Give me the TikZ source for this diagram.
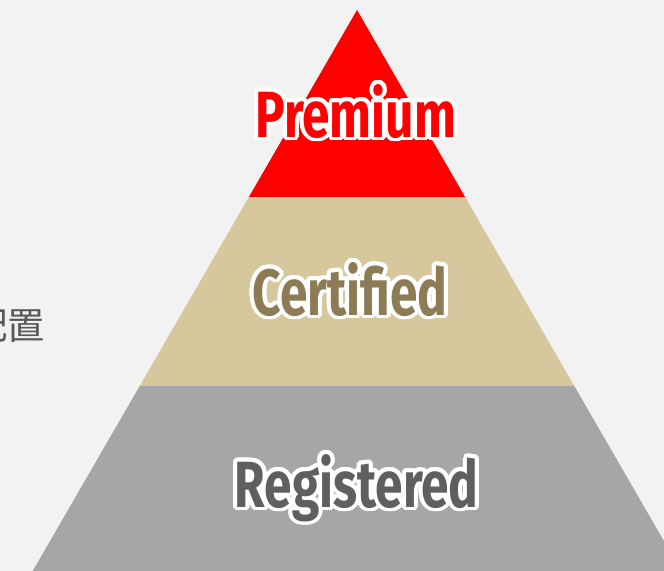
\documentclass[tikz,border=0pt]{standalone}
\usepackage{fontspec}
\usepackage{tikz}
\usetikzlibrary{calc, positioning}
\newfontfamily\tierfont{Fira Sans}[FakeStretch=0.76]
\newfontfamily\cjkfont{Noto Sans CJK JP}
\definecolor{bgray}{HTML}{F2F2F2}
\definecolor{tred}{HTML}{FF0000}
\definecolor{ttan}{HTML}{D6C89C}
\definecolor{tgray}{HTML}{A6A6A6}
\definecolor{ctext}{HTML}{8C7B55}
\definecolor{rtext}{HTML}{5F5F5F}
\definecolor{sidetext}{HTML}{595959}
\tikzstyle{tier}=[inner sep=0pt, anchor=base, font=\tierfont\bfseries\fontsize{49}{49}\selectfont]
\tikzset{band/.style={draw=none}}
\newcommand{\tierlabel}[4]{%
  \foreach \a in {0,20,...,340}
    \node[tier, text=white] at ($(#2)+(\a:3pt)$) {#4};
  \node[tier, text=#3] (#1) at (#2) {#4};
}

\begin{document}
\begin{tikzpicture}[x=0.75pt, y=-0.75pt]
\useasboundingbox (0,0) rectangle (664,571);
\clip (0,0) rectangle (664,571);
\fill[bgray] (0,0) rectangle (664,571);

\coordinate (apex) at (357,10);
\coordinate (L1) at (248.9,197);
\coordinate (R1) at (465.1,197);
\coordinate (L2) at (139.7,386);
\coordinate (R2) at (574.3,386);
\coordinate (L3) at (32.7,571);
\coordinate (R3) at (681.3,571);

\fill[band, tred] (apex) -- (L1) -- (R1) -- cycle;
\fill[band, ttan] (L1) -- (L2) -- (R2) -- (R1) -- cycle;
\fill[band, tgray] (L2) -- (L3) -- (R3) -- (R2) -- cycle;

\coordinate (p) at (355.7,137);
\coordinate (c) at (350,315);
\coordinate (r) at (356.7,507);
\tierlabel{premium}{p}{tred}{Premium}
\tierlabel{certified}{c}{ctext}{Certified}
\tierlabel{registered}{r}{rtext}{Registered}

\node[anchor=east, inner sep=0pt, text=sidetext, font=\cjkfont\fontsize{28}{28}\selectfont] (side) at (45,326) {配置};
\end{tikzpicture}
\end{document}
